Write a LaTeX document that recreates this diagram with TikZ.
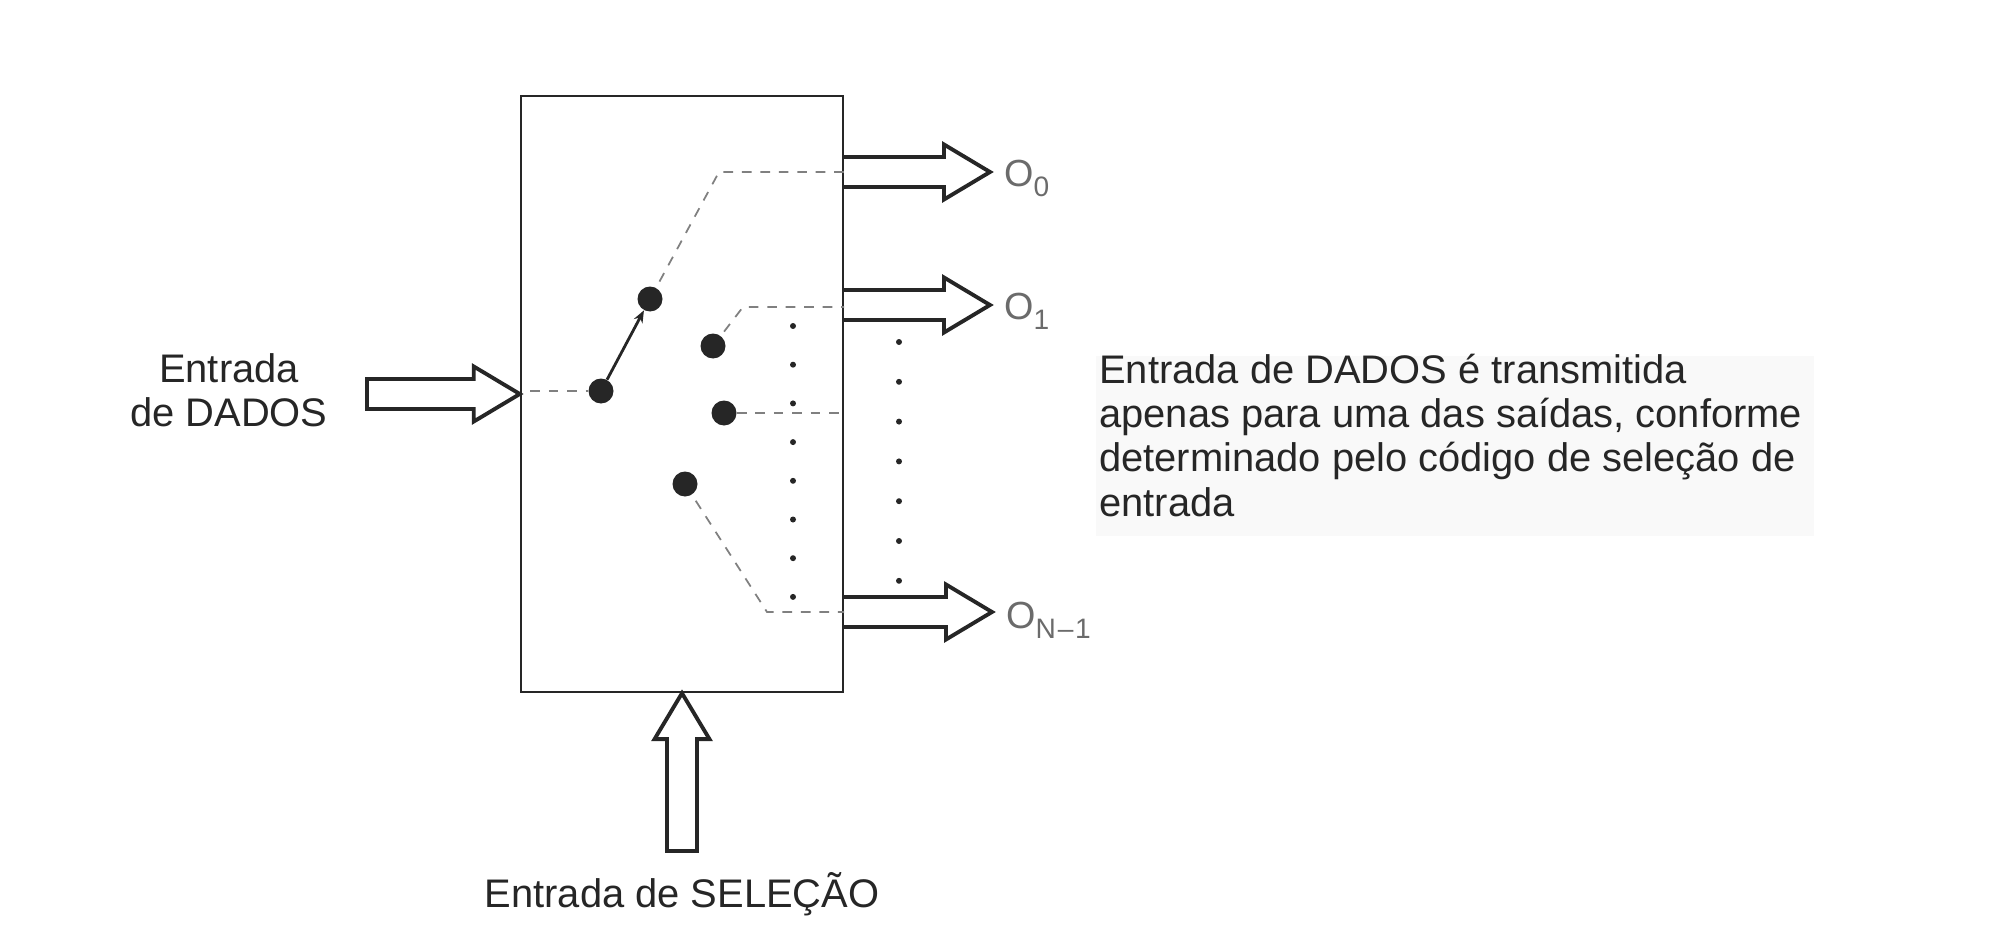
\documentclass[tikz,border=0pt]{standalone}
\usepackage{fontspec}
\usepackage{xcolor}
\setmainfont{Liberation Sans}
\usetikzlibrary{arrows.meta, calc, positioning}
\definecolor{myink}{rgb}{0.15, 0.15, 0.15}
\definecolor{mygrey}{rgb}{0.42, 0.42, 0.42}
\definecolor{mydash}{rgb}{0.5, 0.5, 0.5}
\definecolor{mypatch}{rgb}{0.975, 0.975, 0.975}
\newcommand{\buspoints}{
($(\tikztostart)!0.3cm!90:(\tikztotarget)$)
-- ($($(\tikztotarget)!0.92cm!(\tikztostart)$)!0.3cm!90:(\tikztotarget)$)
-- ($($(\tikztotarget)!0.92cm!(\tikztostart)$)!0.55cm!90:(\tikztotarget)$)
-- (\tikztotarget)
-- ($($(\tikztotarget)!0.92cm!(\tikztostart)$)!0.55cm!-90:(\tikztotarget)$)
-- ($($(\tikztotarget)!0.92cm!(\tikztostart)$)!0.3cm!-90:(\tikztotarget)$)
-- ($(\tikztostart)!0.3cm!-90:(\tikztotarget)$)}
\newcommand{\outlabel}[1]{O\raisebox{-5.7pt}{\fontsize{16}{16}\selectfont #1}}
\tikzstyle{bus} = [draw=myink, line width=2.2pt, to path={\buspoints}]
\tikzstyle{closedbus} = [draw=myink, line width=2.2pt, to path={\buspoints -- cycle}]
\tikzstyle{contact} = [circle, fill=myink, inner sep=0pt, minimum size=0.5cm]
\tikzstyle{dashline} = [draw=mydash, line width=1pt, dash pattern=on 5.5pt off 5pt]
\tikzstyle{caption} = [inner sep=0pt, text=myink, font=\fontsize{22.7}{25.1}\selectfont]
\tikzstyle{outname} = [inner sep=0pt, text=mygrey, anchor=base west, font=\fontsize{21.5}{24}\selectfont]
\begin{document}
\begin{tikzpicture}[x=0.02cm, y=-0.02cm, >=Stealth]
\useasboundingbox (0,0) rectangle (2006,933);
\node[
draw=myink,
line width=1.4pt,
inner sep=0pt,
minimum width=6.44cm,
minimum height=11.92cm
] (box) at (682,394) {};

% patch behind the note
\node[
fill=mypatch,
inner sep=0pt,
minimum width=14.36cm,
minimum height=3.62cm
] (notepatch) at (1455,446) {};
\node[caption, anchor=north west, align=left] (notetext) at (1099,354) {Entrada de DADOS é transmitida\\
apenas para uma das saídas, conforme\\
determinado pelo código de seleção de\\
entrada};

\node[caption, align=center] (datalabel) at (229,390) {Entrada\\de DADOS};
\node[caption, anchor=base] (sellabel) at (682,907) {Entrada de SELEÇÃO};

% input and output buses
\coordinate (datastart) at (367,394);
\coordinate (selstart) at (682,851);
\coordinate (outa) at (990,172);
\coordinate (outb) at (990,305);
\coordinate (outc) at (992,612);
\draw[closedbus] (datastart) to (box.west);
\draw[closedbus] (selstart) to (box.south);
\draw[bus] (box.east |- outa) to (outa);
\draw[bus] (box.east |- outb) to (outb);
\draw[bus] (box.east |- outc) to (outc);

\node[outname] (labela) at (1004,186) {\outlabel{0}};
\node[outname] (labelb) at (1004,319) {\outlabel{1}};
\node[outname] (labelc) at (1006,628) {\outlabel{N\kern1pt--\kern1pt1}};

% switch contacts
\node[contact] (dotin) at (601,391) {};
\node[contact] (dota) at (650,299) {};
\node[contact] (dotb) at (713,346) {};
\node[contact] (dotc) at (724,413) {};
\node[contact] (dotd) at (685,484) {};
\coordinate (benda) at (719,172);
\coordinate (bendb) at (743,307);
\coordinate (bendd) at (767,612);

\draw[dashline, shorten <=6pt] (box.west |- dotin) -- (dotin);
\draw[dashline, shorten <=4pt] (dota) -- (benda) -- (box.east |- benda);
\draw[dashline, shorten <=3pt] (dotb) -- (bendb) -- (box.east |- bendb);
\draw[dashline] (dotc) -- (box.east |- dotc);
\draw[dashline, shorten <=4pt] (dotd) -- (bendd) -- (box.east |- bendd);
\draw[-{Stealth[length=7pt,width=5.5pt]}, draw=myink, line width=1.6pt] (dotin) -- (dota);

% dotted columns
\foreach \k in {0,...,7}
\fill[myink] (793,{326+38.7*\k}) circle (0.06cm);
\foreach \k in {0,...,6}
\fill[myink] (899,{342+39.8*\k}) circle (0.06cm);
\end{tikzpicture}
\end{document}
